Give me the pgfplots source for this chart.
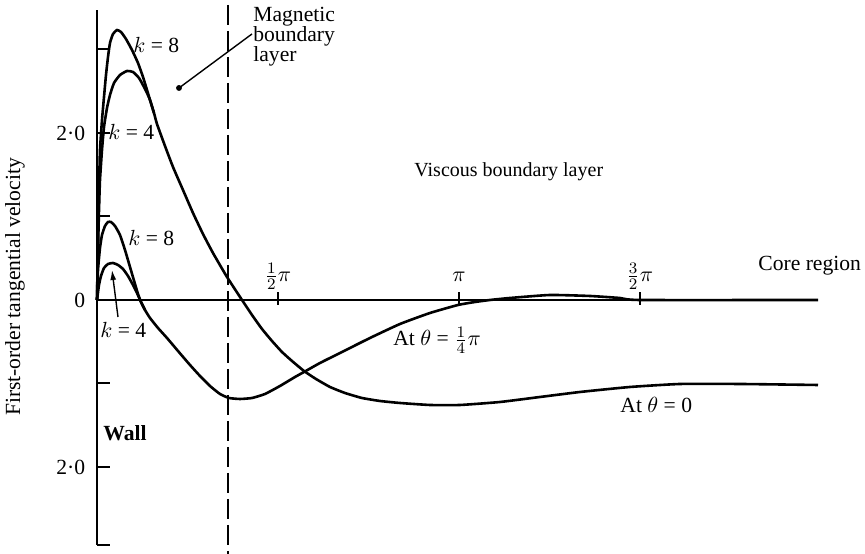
\documentclass[border=0pt]{standalone}
\usepackage{fontspec}
\setmainfont{Liberation Serif}
\usepackage{pgfplots}
\pgfplotsset{compat=1.18}
\usetikzlibrary{arrows.meta}

% First-order tangential velocity across the wall, magnetic and viscous
% boundary layers into the core (x in radians of the stretched coordinate).
\pgfplotsset{
  curve/.style={black, line width=1.3pt, smooth, tension=0.3},
}

\begin{document}
\begin{tikzpicture}[font=\fontsize{10.8}{10}\selectfont]
\begin{axis}[
  x=57.6pt, y=41.75pt,
  xmin=0, xmax=6.2587, ymin=-2.93, ymax=3.47,
  axis x line=middle, axis y line=left,
  axis line style={-, line width=1pt},
  clip=false,
  tick align=inside, major tick length=6.5pt,
  tick style={black, line width=1pt},
  xtick={1.5708,3.1416,4.7124},
  xticklabels={$\frac{1}{2}\pi$,$\pi$,$\frac{3}{2}\pi$},
  xticklabel style={anchor=base, yshift=9pt},
  xtick style={yshift=-2.5pt},
  ytick={-2,-1,0,1,2,3},
  yticklabels={2·0,,0,,2·0,},
  yticklabel style={xshift=-2.4pt},
  extra y ticks={-2.93}, extra y tick labels={},
]

% theta = 0, k = 8 (continues into the viscous layer)
\addplot[curve] coordinates {
 (0,0) (0.0087,0.7186) (0.0174,1.3174) (0.0260,1.7964) (0.0434,2.1557)
 (0.0608,2.4311) (0.0781,2.6946) (0.0955,2.9102) (0.1128,3.0778)
 (0.1389,3.1856) (0.1736,3.2335) (0.2083,3.2096) (0.2517,3.1257)
 (0.3038,2.9940) (0.3559,2.8383) (0.3993,2.6707) (0.4340,2.5150)
 (0.4601,2.3952) (0.4948,2.2395) (0.5208,2.1078) (0.5903,1.8443)
 (0.6597,1.5928) (0.7465,1.3174) (0.8333,1.0419) (0.9201,0.7904)
 (1.0069,0.5629) (1.1285,0.2754) (1.2587,0) (1.3455,-0.1796)
 (1.4323,-0.3473) (1.5191,-0.4910) (1.6059,-0.6228) (1.6927,-0.7305)
 (1.7969,-0.8503) (1.9010,-0.9461) (2.0226,-1.0419) (2.1528,-1.1138)
 (2.3003,-1.1737) (2.4566,-1.2096) (2.6302,-1.2335) (2.8906,-1.2575)
 (3.1510,-1.2575) (3.4983,-1.2216) (3.8455,-1.1617) (4.1927,-1.1018)
 (4.6267,-1.0419) (5.0608,-1.0060) (5.5816,-1.0060) (6.2587,-1.0180)
};
% theta = 0, k = 4 (joins the k = 8 curve)
\addplot[curve] coordinates {
 (0,0) (0.0087,0.5988) (0.0174,1.0778) (0.0260,1.4371) (0.0434,1.7964)
 (0.0608,2.0719) (0.0868,2.2994) (0.1128,2.4551) (0.1476,2.5988)
 (0.1997,2.6946) (0.2604,2.7425) (0.3125,2.7305) (0.3646,2.6587)
 (0.4080,2.5509) (0.4340,2.4790) (0.4601,2.3952) (0.4948,2.2395)
};
% theta = pi/4, k = 8 (continues into the viscous layer)
\addplot[curve] coordinates {
 (0,0) (0.0087,0.3593) (0.0260,0.6228) (0.0434,0.7784) (0.0694,0.8862)
 (0.0955,0.9341) (0.1215,0.9341) (0.1563,0.8862) (0.1997,0.7784)
 (0.2431,0.5988) (0.2865,0.3952) (0.3299,0.1916) (0.3559,0.0719)
 (0.3819,-0.0240) (0.4167,-0.1198) (0.4601,-0.2156) (0.5295,-0.3353)
 (0.6076,-0.4551) (0.7031,-0.6108) (0.8073,-0.7784) (0.8941,-0.9102)
 (0.9809,-1.0299) (1.0677,-1.1257) (1.1458,-1.1737) (1.2413,-1.1856)
 (1.3455,-1.1737) (1.4583,-1.1257) (1.5885,-1.0299) (1.7188,-0.9222)
 (1.7969,-0.8623) (1.9358,-0.7545) (2.1094,-0.6347) (2.3698,-0.4551)
 (2.6302,-0.2874) (2.8906,-0.1557) (3.1337,-0.0599) (3.2813,-0.0240)
 (3.4115,0) (3.5851,0.0240) (3.9323,0.0599) (4.2795,0.0479)
 (4.5399,0.0240) (4.7135,0) (6.2587,0)
};
% theta = pi/4, k = 4
\addplot[curve] coordinates {
 (0,0) (0.0174,0.1796) (0.0347,0.2874) (0.0608,0.3832) (0.0955,0.4311)
 (0.1389,0.4431) (0.1823,0.4192) (0.2257,0.3713) (0.2691,0.2874)
 (0.3125,0.1796) (0.3472,0.0838) (0.3819,-0.0240) (0.4167,-0.1198)
};

% edge of the magnetic boundary layer
\addplot[black, line width=0.8pt, dash pattern=on 10pt off 3pt]
  coordinates {(1.137,3.533) (1.137,-3.042)};
% leader to the magnetic-layer label
\addplot[black, line width=0.7pt, mark=*, mark size=1.1pt, mark indices={2}]
  coordinates {(1.3455,3.186) (0.7118,2.539)};
\draw[-{Latex[length=5pt,width=3pt]}, line width=0.7pt]
  (axis cs:0.1823,-0.2036) -- (axis cs:0.1302,0.3593);

\node[anchor=west, inner sep=0] at (axis cs:0.3125,3.054) {$k$ = 8};
\node[anchor=west, inner sep=0] at (axis cs:0.0955,2.012) {$k$ = 4};
\node[anchor=west, inner sep=0] at (axis cs:0.2691,0.7425) {$k$ = 8};
\node[anchor=west, inner sep=0] at (axis cs:0.0260,-0.359) {$k$ = 4};
\node[anchor=north west, align=left, inner sep=0] at (axis cs:1.354,3.509)
  {Magnetic\\boundary\\layer};
\node[anchor=west, inner sep=0, font=\fontsize{10}{10}\selectfont]
  at (axis cs:2.752,1.533) {Viscous boundary layer};
\node[anchor=west, inner sep=0] at (axis cs:5.738,0.407) {Core region};
\node[anchor=west, inner sep=0] at (axis cs:2.569,-0.479) {At $\theta$ = $\frac{1}{4}\pi$};
\node[anchor=west, inner sep=0] at (axis cs:4.540,-1.257) {At $\theta$ = 0};
\node[anchor=west, inner sep=0] at (axis cs:0.052,-1.593) {\bfseries Wall};
\node[rotate=90, inner sep=0] at (axis cs:-0.7118,0.156) {First-order tangential velocity};

\coordinate (bbsw) at (axis cs:-0.8420,-3.0419);
\coordinate (bbne) at (axis cs:6.6667,3.5928);
\end{axis}
\pgfresetboundingbox
\path[use as bounding box] (bbsw) rectangle (bbne);
\end{tikzpicture}
\end{document}
